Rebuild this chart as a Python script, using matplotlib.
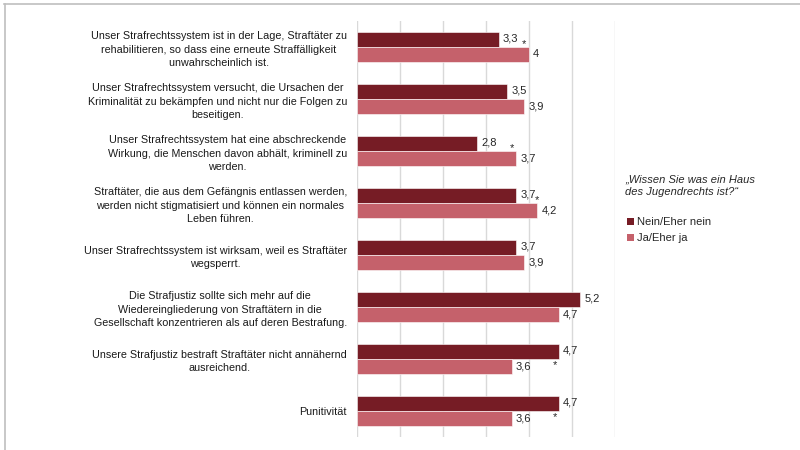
import matplotlib
matplotlib.use("Agg")
import matplotlib.pyplot as plt
from matplotlib.patches import Patch
from matplotlib.lines import Line2D
import numpy as np

plt.rcParams['font.family'] = ['Liberation Sans', 'DejaVu Sans']

categories = [
    "Unser Strafrechtssystem ist in der Lage, Straftäter zu\nrehabilitieren, so dass eine erneute Straffälligkeit\nunwahrscheinlich ist.",
    "Unser Strafrechtssystem versucht, die Ursachen der\nKriminalität zu bekämpfen und nicht nur die Folgen zu\nbeseitigen.",
    "Unser Strafrechtssystem hat eine abschreckende\nWirkung, die Menschen davon abhält, kriminell zu\nwerden.",
    "Straftäter, die aus dem Gefängnis entlassen werden,\nwerden nicht stigmatisiert und können ein normales\nLeben führen.",
    "Unser Strafrechtssystem ist wirksam, weil es Straftäter\nwegsperrt.",
    "Die Strafjustiz sollte sich mehr auf die\nWiedereingliederung von Straftätern in die\nGesellschaft konzentrieren als auf deren Bestrafung.",
    "Unsere Strafjustiz bestraft Straftäter nicht annähernd\nausreichend.",
    "Punitivität",
]
nein_values = [3.3, 3.5, 2.8, 3.7, 3.7, 5.2, 4.7, 4.7]
ja_values = [4.0, 3.9, 3.7, 4.2, 3.9, 4.7, 3.6, 3.6]
significant = [True, False, True, True, False, False, True, True]
series_names = ["Nein/Eher nein", "Ja/Eher ja"]
legend_title = "\u201eWissen Sie was ein Haus\ndes Jugendrechts ist?\u201c"

c_dark = "#761C25"
c_light = "#C5616B"
txt_c = "#262626"

def fmt(v):
    s = f"{v:.1f}".replace(".", ",")
    if s.endswith(",0"):
        s = s[:-2]
    return s

fig = plt.figure(figsize=(8, 4.5), dpi=100)
ax = fig.add_axes([356.7 / 800, 13 / 450, 258 / 800, 416 / 450])

y = np.arange(len(categories))
bh = 0.28
ax.barh(y - bh / 2, nein_values, height=bh, color=c_dark, edgecolor="white", linewidth=0.4, zorder=3)
ax.barh(y + bh / 2, ja_values, height=bh, color=c_light, edgecolor="white", linewidth=0.4, zorder=3)

vfs = 8
for i in range(len(categories)):
    ax.text(nein_values[i] + 0.1, y[i] - bh / 2 - 0.02, fmt(nein_values[i]), va="center", ha="left",
            fontsize=vfs, color=txt_c)
    ax.text(ja_values[i] + 0.1, y[i] + bh / 2, fmt(ja_values[i]), va="center", ha="left",
            fontsize=vfs, color=txt_c)
    if significant[i]:
        m = max(nein_values[i], ja_values[i])
        if ja_values[i] >= nein_values[i]:
            sy = y[i] - 0.06
            sx = m - 0.1
            if nein_values[i] + 0.45 > sx:
                sx = nein_values[i] + 0.5
        else:
            sy = y[i] + 0.12
            sx = m - 0.1
        ax.text(sx, sy, "*", ha="center", va="center", fontsize=vfs, color=txt_c)

ax.set_xlim(0, 6)
ax.set_ylim(len(categories) - 0.5, -0.5)
ax.set_xticks(np.arange(0, 7, 1))
ax.xaxis.grid(True, color="#D9D9D9", linewidth=1)
ax.set_axisbelow(True)
ax.tick_params(axis="x", length=0, labelbottom=False)
ax.tick_params(axis="y", length=0, pad=7)
ax.set_yticks(y)
ax.set_yticklabels(categories, fontsize=7.75, color="#1a1a1a", multialignment="center", linespacing=1.42)
for s in ax.spines.values():
    s.set_visible(False)

fig.text(625 / 800, 1 - 175 / 450, legend_title, ha="left", va="top", fontsize=8, style="italic",
         color=txt_c, linespacing=1.3)
handles = [Patch(facecolor=c_dark), Patch(facecolor=c_light)]
leg = fig.legend(handles, series_names, loc="upper left", bbox_to_anchor=(617 / 800, 1 - 207 / 450),
                 frameon=False, fontsize=8,
                 handlelength=0.6, handleheight=0.6, handletextpad=0.3, labelspacing=0.55)
for t in leg.get_texts():
    t.set_color(txt_c)

# outer frame lines (top and left)
fig.add_artist(Line2D([4 / 800, 1], [1 - 3.5 / 450, 1 - 3.5 / 450], transform=fig.transFigure,
                      color="#BFBFBF", linewidth=1.2))
fig.add_artist(Line2D([4.5 / 800, 4.5 / 800], [0, 1 - 3.5 / 450], transform=fig.transFigure,
                      color="#BFBFBF", linewidth=1.2))

fig.savefig("out.png", dpi=100)
